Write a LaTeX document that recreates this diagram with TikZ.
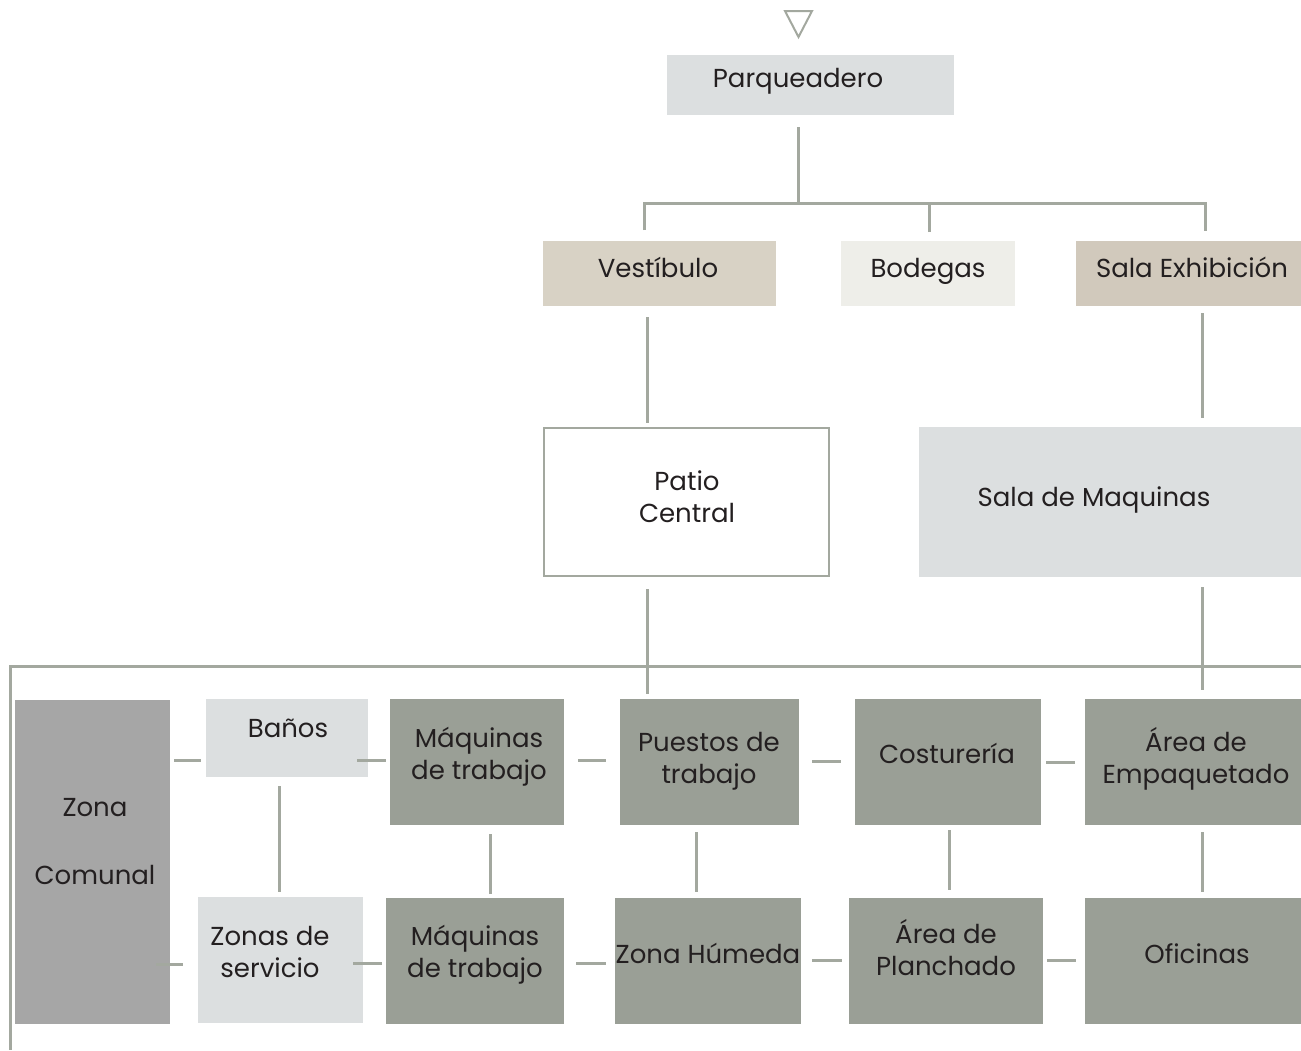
\documentclass[tikz,border=0pt]{standalone}
\usepackage{fontspec}
\setmainfont{Poppins}
\usetikzlibrary{calc}
\definecolor{lc}{HTML}{A3A89F}
\definecolor{cparq}{HTML}{DCDFE0}
\definecolor{cvest}{HTML}{D8D2C5}
\definecolor{cbod}{HTML}{EEEEE9}
\definecolor{csala}{HTML}{D1C9BC}
\definecolor{cdark}{HTML}{9A9F96}
\definecolor{czona}{HTML}{A6A6A6}
\definecolor{txt}{HTML}{231F20}
\begin{document}
\begin{tikzpicture}[x=1pt,y=-1pt,
  box/.style={draw=none,inner sep=0pt,outer sep=0pt,minimum width=#1},
  lbl/.style={font=\fontsize{26}{32}\selectfont,text=txt,align=center,inner sep=0pt,anchor=base},
  conn/.style={draw=lc,line width=3pt}]
\useasboundingbox (0,0) rectangle (1301,1050);
\fill[white] (0,0) rectangle (1301,1050);
% entry triangle
\draw[lc,line width=2pt,line join=miter] (785,11) -- (812,11) -- (798.5,37) -- cycle;
% boxes
\node[box=287pt,fill=cparq,minimum height=60pt] (parq) at (810.5,85) {};
\node[box=233pt,fill=cvest,minimum height=65pt] (vest) at (659.5,273.5) {};
\node[box=174pt,fill=cbod,minimum height=65pt] (bod) at (928,273.5) {};
\node[box=225pt,fill=csala,minimum height=65pt] (sala) at (1188.5,273.5) {};
\node[box=285pt,draw=lc,line width=2.5pt,fill=white,minimum height=148pt] (patio) at (686.5,502) {};
\node[box=382pt,fill=cparq,minimum height=150pt] (maqsala) at (1110,502) {};
\node[box=155pt,fill=czona,minimum height=324pt] (zc) at (92.5,862) {};
\node[box=162pt,fill=cparq,minimum height=78pt] (banos) at (287,738) {};
\node[box=165pt,fill=cparq,minimum height=126pt] (zserv) at (280.5,960) {};
\node[box=174pt,fill=cdark,minimum height=126pt] (maq1) at (477,762) {};
\node[box=178pt,fill=cdark,minimum height=126pt] (maq2) at (475,961) {};
\node[box=179pt,fill=cdark,minimum height=126pt] (puestos) at (709.5,762) {};
\node[box=186pt,fill=cdark,minimum height=126pt] (humeda) at (708,961) {};
\node[box=186pt,fill=cdark,minimum height=126pt] (cost) at (948,762) {};
\node[box=194pt,fill=cdark,minimum height=126pt] (planch) at (946,961) {};
\node[box=216pt,fill=cdark,minimum height=126pt] (emp) at (1193,762) {};
\node[box=216pt,fill=cdark,minimum height=126pt] (ofic) at (1193,961) {};
% labels (anchored at the baseline of the last line)
\node[lbl] (tparq) at (798,87) {Parqueadero};
\node[lbl] (tvest) at (658,277) {Vestíbulo};
\node[lbl] (tbod) at (928,277) {Bodegas};
\node[lbl] (tsala) at (1192,277) {Sala Exhibición};
\node[lbl] (tpatio) at (687,522) {Patio\\Central};
\node[lbl] (tmaqsala) at (1094,506) {Sala de Maquinas};
\node[lbl] (tzona) at (95,816) {Zona};
\node[lbl] (tcomunal) at (95,884) {Comunal};
\node[lbl] (tbanos) at (288,737) {Baños};
\node[lbl] (tmaq1) at (479,779) {Máquinas\\de trabajo};
\node[lbl] (tpuestos) at (709,783) {Puestos de\\trabajo};
\node[lbl] (tcost) at (947,763) {Costurería};
\node[lbl] (temp) at (1196,783) {Área de\\Empaquetado};
\node[lbl] (tzserv) at (270,977) {Zonas de\\servicio};
\node[lbl] (tmaq2) at (475,977) {Máquinas\\de trabajo};
\node[lbl] (thum) at (708,963) {Zona Húmeda};
\node[lbl] (tplanch) at (946,975) {Área de\\Planchado};
\node[lbl] (tofic) at (1197,963) {Oficinas};
% hub coordinates
\coordinate (hub) at (798,203);
\coordinate (hubR) at (1205,203);
\coordinate (frameA) at (10,1050);
\coordinate (frameB) at (10,666);
\coordinate (frameC) at (1301,666);
% top connectors
\draw[conn] ($(parq.south)+(-12.5,12)$) -- (hub);
\draw[conn] ($(vest.north)+(-15.5,-11)$) |- (hubR) -- ($(sala.north)+(16.5,-10)$);
\draw[conn] ($(bod.north)+(1,-9)$) |- (hub);
\draw[conn] ($(vest.south)+(-12.5,11)$) -- ($(patio.north)+(-39.5,-5)$);
\draw[conn] ($(sala.south)+(13.5,7)$) -- ($(maqsala.north)+(92,-9)$);
\draw[conn] ($(patio.south)+(-39.5,13)$) -- ($(puestos.north)+(-62.5,-5)$);
\draw[conn] ($(maqsala.south)+(92,10)$) -- ($(emp.north)+(9,-9)$);
\draw[conn] (frameA) -- (frameB) -- (frameC);
% row stubs
\draw[conn] ($(zc.east)+(4,-102)$) -- ($(banos.west)+(-5,22)$);
\draw[conn] ($(banos.east)+(-11,22)$) -- ($(maq1.west)+(-4,-2)$);
\draw[conn] ($(maq1.east)+(14,-2)$) -- ($(puestos.west)+(-14,-2)$);
\draw[conn] ($(puestos.east)+(13,-1)$) -- ($(cost.west)+(-14,-1)$);
\draw[conn] ($(cost.east)+(5,0)$) -- ($(emp.west)+(-10,0)$);
\draw[conn] ($(banos.south)+(-8,9)$) -- ($(zserv.north)+(-1.5,-5)$);
\draw[conn] ($(maq1.south)+(13,9)$) -- ($(maq2.north)+(15,-4)$);
\draw[conn] ($(puestos.south)+(-13.5,7)$) -- ($(humeda.north)+(-12,-6)$);
\draw[conn] ($(cost.south)+(1,5)$) -- ($(planch.north)+(3,-8)$);
\draw[conn] ($(emp.south)+(9,7)$) -- ($(ofic.north)+(9,-6)$);
\draw[conn] ($(zc.east)+(-14,102)$) -- ($(zserv.west)+(-15,4)$);
\draw[conn] ($(zserv.east)+(-10,3)$) -- ($(maq2.west)+(-4,2)$);
\draw[conn] ($(maq2.east)+(12,2)$) -- ($(humeda.west)+(-9,2)$);
\draw[conn] ($(humeda.east)+(11,-1)$) -- ($(planch.west)+(-7,-1)$);
\draw[conn] ($(planch.east)+(4,-1)$) -- ($(ofic.west)+(-9,-1)$);
\end{tikzpicture}
\end{document}
